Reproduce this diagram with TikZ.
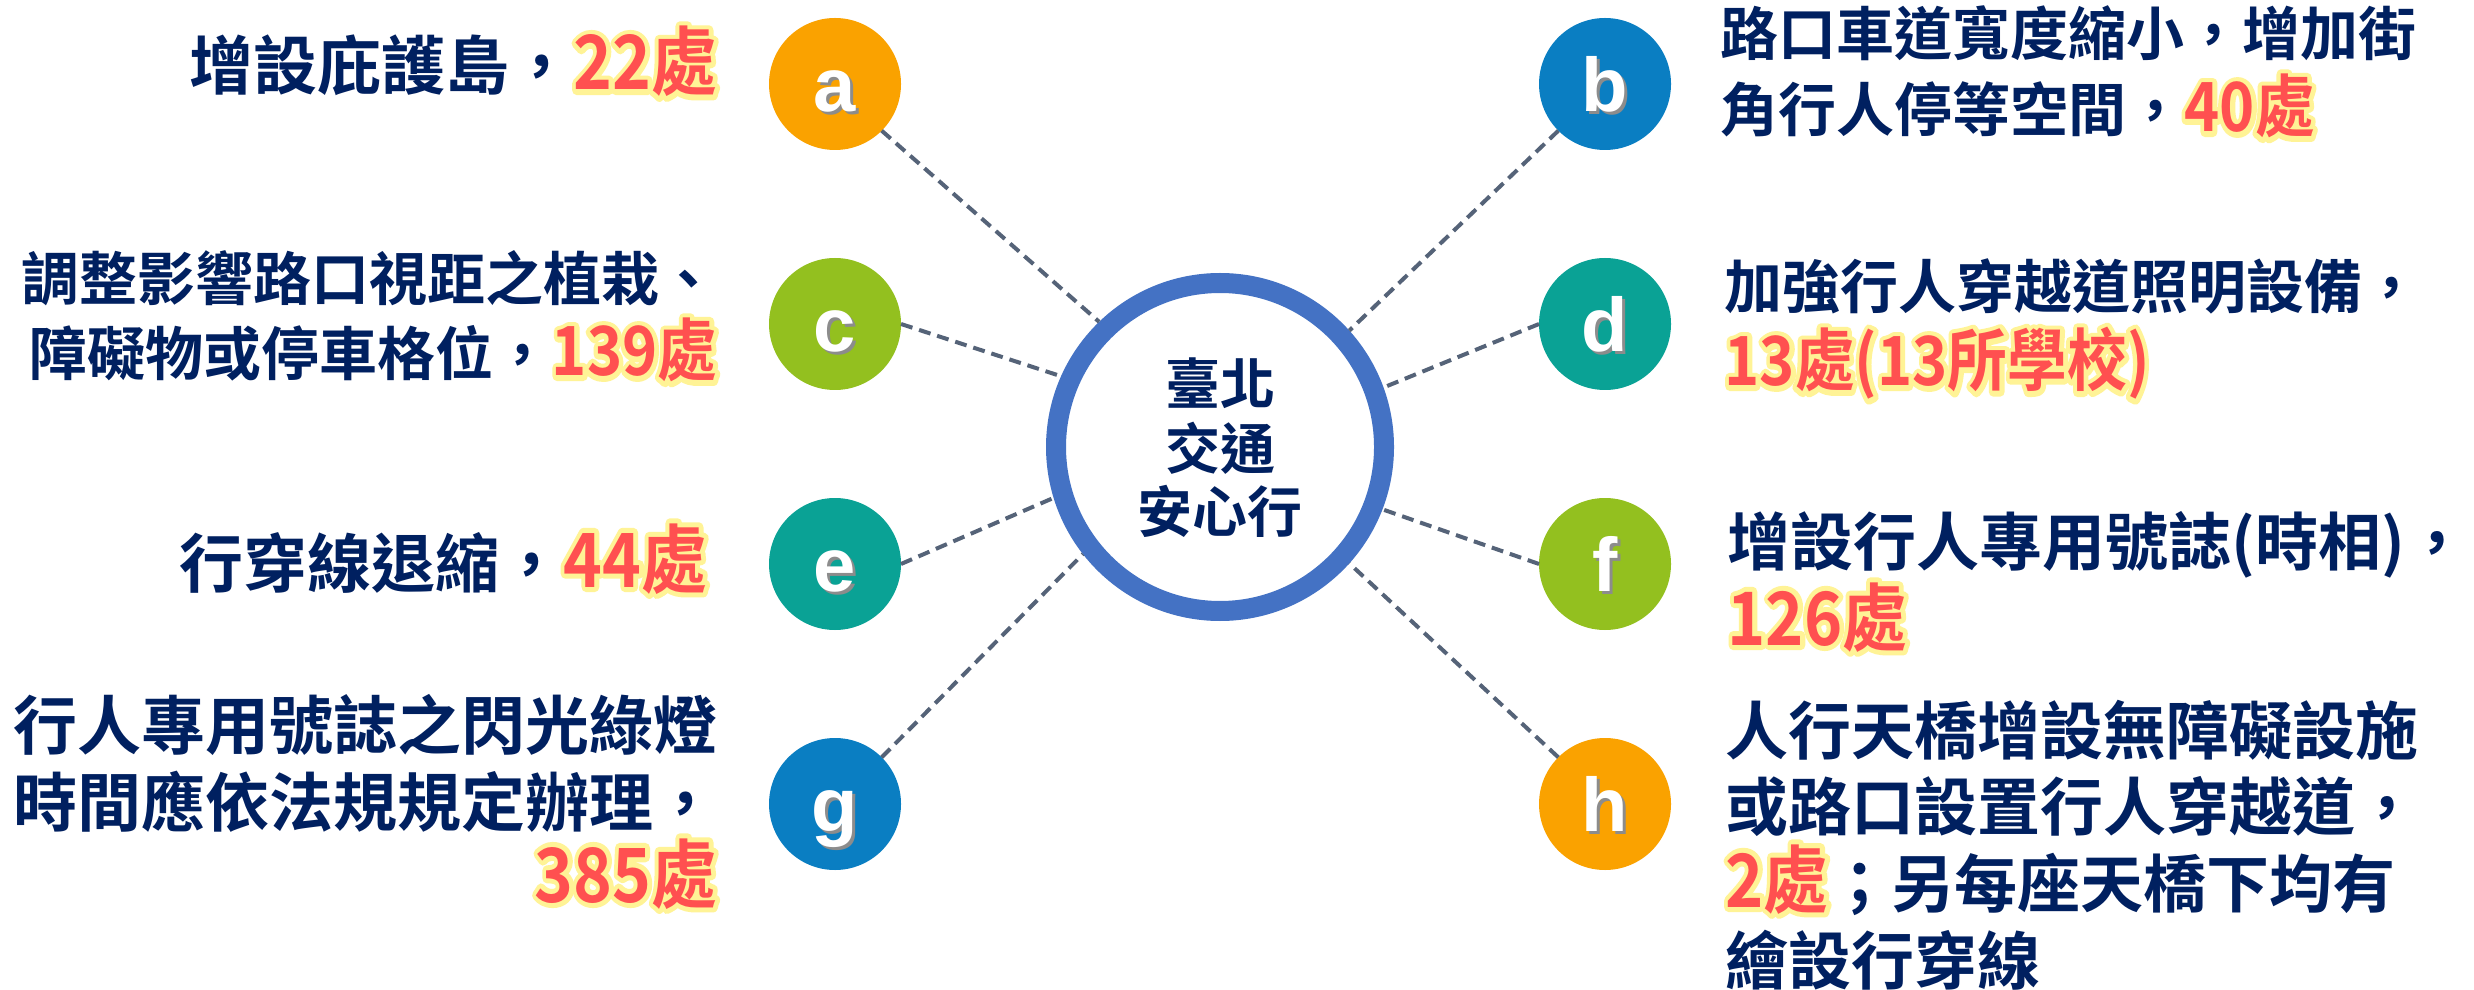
\documentclass[tikz,border=0pt]{standalone}
\usepackage{graphicx}
\usepackage{fontspec}
\setmainfont{Noto Sans CJK TC}[BoldFont={* Bold}]
\newfontfamily\latinb{Liberation Sans}[BoldFont={* Bold}]
\definecolor{navy}{RGB}{0,32,96}
\definecolor{redc}{RGB}{255,80,80}
\definecolor{glowc}{RGB}{255,243,150}
\definecolor{ringc}{RGB}{68,114,196}
\definecolor{connc}{RGB}{85,99,120}
\definecolor{orangec}{RGB}{250,162,0}
\definecolor{bluec}{RGB}{10,126,194}
\definecolor{greenc}{RGB}{147,192,31}
\definecolor{tealc}{RGB}{10,162,149}
\makeatletter
\newcommand\hl[1]{{\fontsize{\fpeval{1.17*\f@size}}{0}\selectfont\scalebox{0.88}[1]{%
  \rlap{\textcolor{glowc}{\special{pdf:literal direct 1 Tr 3 w 1 j 1 J}#1\special{pdf:literal direct 0 Tr}}}%
  \textcolor{redc}{#1}}}}
\makeatother
\newcommand\shl[1]{\rlap{\hspace*{0.9pt}\raisebox{-0.9pt}{\textcolor{black!45}{#1}}}#1}
\newcommand\fsL{\fontsize{19.2pt}{23pt}\selectfont}
\newcommand\fsH{\fontsize{18.9pt}{23pt}\selectfont}
\newcommand\fsM{\fontsize{17.4pt}{21pt}\selectfont}
\newcommand\fsC{\fontsize{16.5pt}{20pt}\selectfont}
\begin{document}
\begin{tikzpicture}[x=0.3pt,y=-0.3pt,
  dot/.style={circle, inner sep=0pt, outer sep=0pt, minimum size=39.6pt,
    text=white, font=\latinb\bfseries\fontsize{22.8pt}{24pt}\selectfont,
    text height=16.5pt, text depth=0pt},
  ringst/.style={circle, draw=ringc, line width=6pt, fill=white, inner sep=0pt, minimum size=98.4pt},
  conn/.style={draw=connc, line width=1.2pt, dash pattern=on 3.6pt off 2.1pt},
  txt/.style={inner sep=0pt, text=navy},
  ltxt/.style={txt, anchor=base east},
  rtxt/.style={txt, anchor=base west},
  ctxt/.style={txt, anchor=base, font=\bfseries\fsC}]
\useasboundingbox (0,0) rectangle (2474,990);
\fill[white] (0,0) rectangle (2474,990);

% centre
\node[ringst] (ring) at (1220,447) {};
\node[ctxt] (c1) at (1220,405) {臺北};
\node[ctxt] (c2) at (1220,469) {交通};
\node[ctxt] (c3) at (1220,533) {安心行};

% letter circles
\node[dot, fill=orangec] (a) at (835,84) {\shl{a}};
\node[dot, fill=bluec]   (b) at (1605,84) {\shl{b}};
\node[dot, fill=greenc]  (c) at (835,324) {\shl{c}};
\node[dot, fill=tealc]   (d) at (1605,324) {\shl{d}};
\node[dot, fill=tealc]   (e) at (835,564) {\shl{e}};
\node[dot, fill=greenc]  (f) at (1605,564) {\shl{f}};
\node[dot, fill=bluec]   (g) at (835,804) {\shl{g}};
\node[dot, fill=orangec] (h) at (1605,804) {\shl{h}};

% connectors
\draw[conn] (a.-45) -- (ring.134);
\draw[conn] (b.-135) -- (ring.42);
\draw[conn] (c.east) -- (ring.156);
\draw[conn] (d.west) -- (ring.20);
\draw[conn] (e.east) -- (ring.197);
\draw[conn] (f.west) -- (ring.-21);
\draw[conn] (g.45) -- (ring.218);
\draw[conn] (h.135) -- (ring.-42);

% left texts
\node[ltxt, font=\bfseries\fsL] (ta) at (718,90) {增設庇護島，\hl{22處}};
\node[ltxt, font=\bfseries\fsM] (tc1) at (718,301) {調整影響路口視距之植栽、};
\node[ltxt, font=\bfseries\fsM] (tc2) at (718,376) {障礙物或停車格位，\hl{139處}};
\node[ltxt, font=\bfseries\fsL] (te) at (708,587) {行穿線退縮，\hl{44處}};
\node[ltxt, font=\bfseries\fsL] (tg1) at (718,749) {行人專用號誌之閃光綠燈};
\node[ltxt, font=\bfseries\fsL] (tg2) at (718,826) {時間應依法規規定辦理，};
\node[ltxt, font=\bfseries\fsL] (tg3) at (718,902) {\hl{385處}};

% right texts
\node[rtxt, font=\bfseries\fsM] (tb1) at (1720,56) {路口車道寬度縮小，增加街};
\node[rtxt, font=\bfseries\fsM] (tb2) at (1720,132) {角行人停等空間，\hl{40處}};
\node[rtxt, font=\bfseries\fsM] (td1) at (1724,309) {加強行人穿越道照明設備，};
\node[rtxt, font=\bfseries\fsM] (td2) at (1724,386) {\hl{13處(13所學校)}};
\node[rtxt, font=\bfseries\fsH] (tf1) at (1727,565) {增設行人專用號誌(時相)，};
\node[rtxt, font=\bfseries\fsH] (tf2) at (1727,645) {\hl{126處}};
\node[rtxt, font=\bfseries\fsH] (th1) at (1725,754) {人行天橋增設無障礙設施};
\node[rtxt, font=\bfseries\fsH] (th2) at (1725,830) {或路口設置行人穿越道，};
\node[rtxt, font=\bfseries\fsH] (th3) at (1725,907) {\hl{2處}；另每座天橋下均有};
\node[rtxt, font=\bfseries\fsH] (th4) at (1725,984) {繪設行穿線};
\end{tikzpicture}
\end{document}
